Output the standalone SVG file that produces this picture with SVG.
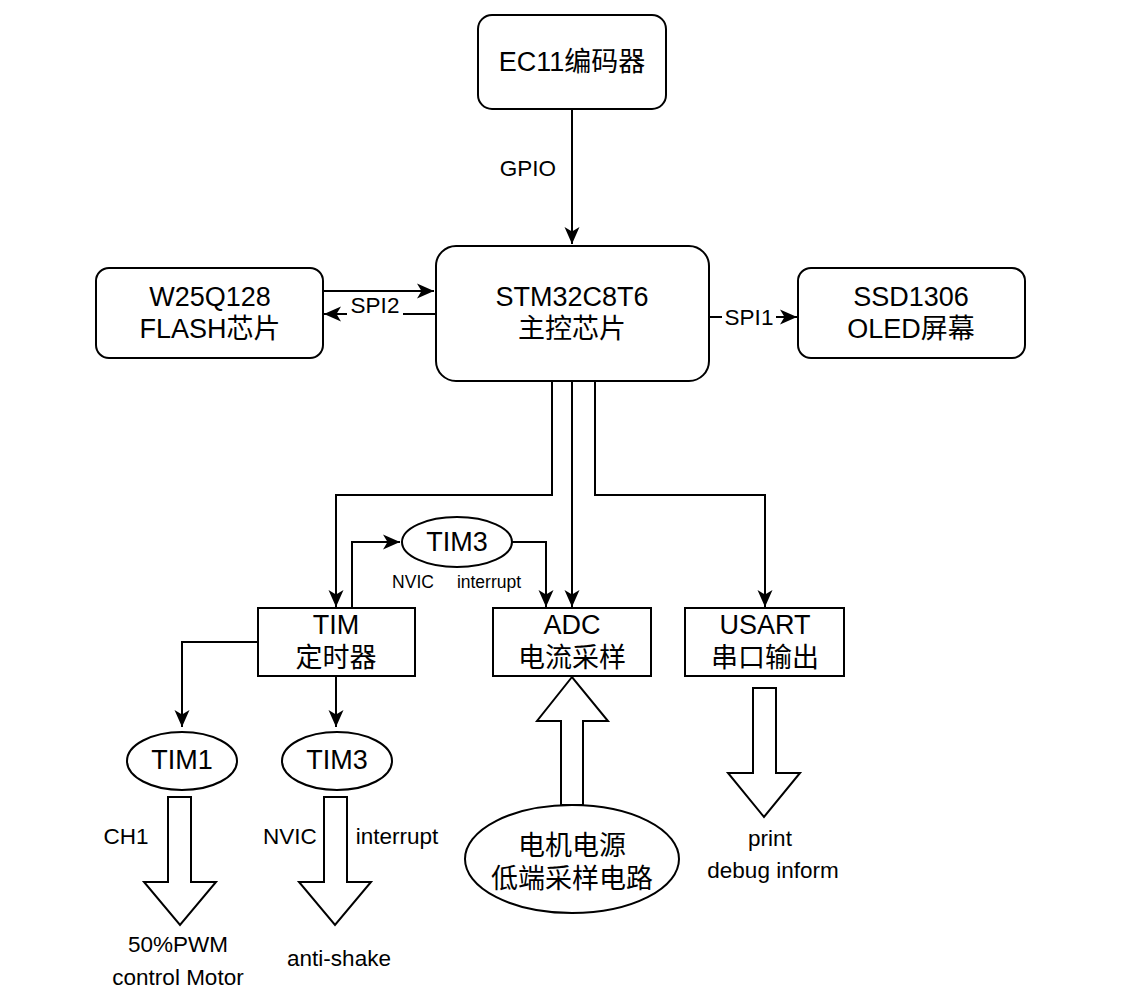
<svg xmlns="http://www.w3.org/2000/svg" width="1145" height="994" viewBox="0 0 1145 994">
<style>
.box{fill:#fff;stroke:#000;stroke-width:2}
.t{font-family:"Liberation Sans","Noto Sans CJK SC",Arial,sans-serif;font-size:27px;fill:#000;text-anchor:middle;dominant-baseline:central}
.l{font-family:"Liberation Sans","Noto Sans CJK SC",Arial,sans-serif;font-size:22.5px;fill:#000;text-anchor:middle;dominant-baseline:central}
.s{font-family:"Liberation Sans",Arial,sans-serif;font-size:17.5px;fill:#000;text-anchor:middle;dominant-baseline:central}
.c{fill:none;stroke:#000;stroke-width:2;marker-end:url(#ah)}
.blk{fill:#fff;stroke:#000;stroke-width:2;stroke-linejoin:miter}
</style>
<defs>
<marker id="ah" markerUnits="userSpaceOnUse" viewBox="0 -8 18 16" refX="17" refY="0" markerWidth="18" markerHeight="16" orient="auto">
<path d="M0,-7.5 L17,0 L0,7.5 L4.5,0 Z" fill="#000"/>
</marker>
</defs>
<rect width="1145" height="994" fill="#fff"/>

<g id="connectors">
<path class="c" d="M572,109 V244"/>
<path class="c" d="M323,291 H434"/>
<path class="c" d="M435,314 H324"/>
<path class="c" d="M709,317 H797"/>
<path class="c" d="M552,381 V495 H336 V607"/>
<path class="c" d="M572,381 V607"/>
<path class="c" d="M595,381 V495 H765 V607"/>
<path class="c" d="M352,608 V542 H400"/>
<path class="c" d="M512,542 H546 V607"/>
<path class="c" d="M258,642 H182 V727"/>
<path class="c" d="M336,677 V727"/>
</g>

<g id="labels">
<text class="l" x="528" y="168">GPIO</text>
<rect x="347" y="293" width="56" height="24" fill="#fff"/>
<text class="l" x="375" y="305">SPI2</text>
<rect x="722" y="305" width="54" height="24" fill="#fff"/>
<text class="l" x="749" y="317">SPI1</text>
<text class="s" x="413" y="582">NVIC</text>
<text class="s" x="489" y="582">interrupt</text>
</g>

<g id="ec11">
<rect class="box" x="478" y="15" width="188" height="94" rx="14"/>
<text class="t" x="572" y="62">EC11编码器</text>
</g>
<g id="stm32">
<rect class="box" x="436" y="246" width="273" height="135" rx="20"/>
<text class="t" x="572" y="297">STM32C8T6</text>
<text class="t" x="572" y="329">主控芯片</text>
</g>
<g id="w25q128">
<rect class="box" x="96" y="268" width="227" height="90" rx="13"/>
<text class="t" x="210" y="297">W25Q128</text>
<text class="t" x="210" y="329">FLASH芯片</text>
</g>
<g id="ssd1306">
<rect class="box" x="798" y="268" width="227" height="90" rx="13"/>
<text class="t" x="911" y="297">SSD1306</text>
<text class="t" x="911" y="329">OLED屏幕</text>
</g>
<g id="tim3top">
<ellipse class="box" cx="457" cy="542" rx="55" ry="25"/>
<text class="t" x="457" y="542">TIM3</text>
</g>
<g id="tim">
<rect class="box" x="258" y="608" width="157" height="68"/>
<text class="t" x="336" y="625">TIM</text>
<text class="t" x="336" y="658">定时器</text>
</g>
<g id="adc">
<rect class="box" x="493" y="608" width="158" height="68"/>
<text class="t" x="572" y="625">ADC</text>
<text class="t" x="572" y="658">电流采样</text>
</g>
<g id="usart">
<rect class="box" x="685" y="608" width="159" height="68"/>
<text class="t" x="765" y="625">USART</text>
<text class="t" x="765" y="658">串口输出</text>
</g>
<g id="tim1">
<ellipse class="box" cx="182" cy="761" rx="55" ry="29"/>
<text class="t" x="182" y="760">TIM1</text>
</g>
<g id="tim3">
<ellipse class="box" cx="337" cy="761" rx="55" ry="29"/>
<text class="t" x="337" y="760">TIM3</text>
</g>
<g id="arrow-tim1">
<path class="blk" d="M168,797 H191 V882 H216 L180,925 L144,882 H168 Z"/>
<text class="l" x="126" y="836">CH1</text>
<text class="l" x="178" y="944">50%PWM</text>
<text class="l" x="178" y="977">control Motor</text>
</g>
<g id="arrow-tim3">
<path class="blk" d="M324,797 H347 V882 H371 L335,925 L299,882 H324 Z"/>
<text class="l" x="290" y="836">NVIC</text>
<text class="l" x="397" y="836">interrupt</text>
<text class="l" x="339" y="958">anti-shake</text>
</g>
<g id="arrow-adc">
<path class="blk" d="M561,805 V721 H537 L572,677 L608,721 H583 V805 Z"/>
</g>
<g id="motor-sense">
<ellipse class="box" cx="572" cy="859" rx="107" ry="54"/>
<text class="t" x="572" y="846">电机电源</text>
<text class="t" x="572" y="879">低端采样电路</text>
</g>
<g id="arrow-usart">
<path class="blk" d="M753,688 H776 V773 H800 L764,817 L728,773 H753 Z"/>
<text class="l" x="770" y="838">print</text>
<text class="l" x="773" y="870">debug inform</text>
</g>
</svg>
